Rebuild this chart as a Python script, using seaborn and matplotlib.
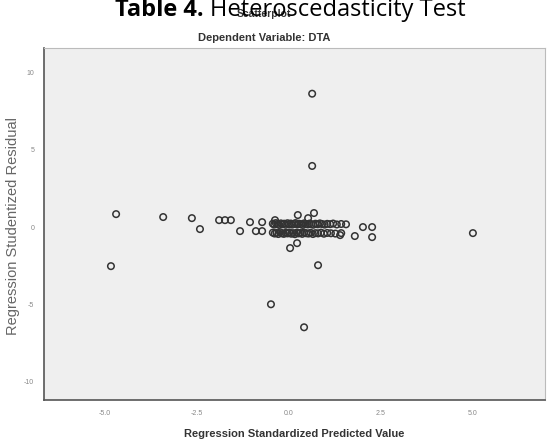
import matplotlib
matplotlib.use("Agg")
import matplotlib.pyplot as plt
import seaborn as sns
import pandas as pd

# Regression standardized predicted value (x) and studentized residual (y)
pred_outer = [-4.70, -4.84, -3.42, -2.64, -2.42, -1.90, -1.74, -1.58, -1.33, -1.06,
              -0.73, -0.90, -0.73, 0.24, 0.52, 0.68, 2.01, 2.26, 1.79, 2.26,
              0.03, 0.22, 1.39, 5.00, 0.63, 0.63, 0.79, -0.49, 0.41, -0.38]
resid_outer = [0.84, -2.53, 0.65, 0.58, -0.13, 0.45, 0.45, 0.45, -0.26, 0.32,
               0.32, -0.26, -0.26, 0.78, 0.58, 0.91, 0.00, 0.00, -0.58, -0.65,
               -1.36, -1.04, -0.52, -0.39, 8.64, 3.96, -2.47, -5.00, -6.49, 0.45]
pred_upper = [-0.44, -0.40, -0.36, -0.31, -0.27, -0.22, -0.18, -0.13, -0.09, -0.04,
              0.00, 0.05, 0.09, 0.14, 0.18, 0.23, 0.27, 0.32, 0.37, 0.41, 0.46, 0.51,
              0.56, 0.61, 0.66, 0.72, 0.78, 0.84, 0.90, 0.97, 1.04, 1.12, 1.20, 1.30,
              1.42, 1.55]
resid_upper = [0.22, 0.16, 0.26, 0.20, 0.14, 0.24, 0.18, 0.22, 0.15, 0.25, 0.19, 0.23,
               0.16, 0.21, 0.26, 0.17, 0.22, 0.19, 0.14, 0.24, 0.20, 0.17, 0.23, 0.19,
               0.15, 0.22, 0.18, 0.24, 0.20, 0.16, 0.21, 0.19, 0.23, 0.17, 0.20, 0.18]
pred_lower = [-0.44, -0.39, -0.34, -0.29, -0.24, -0.19, -0.14, -0.09, -0.04, 0.01,
              0.06, 0.11, 0.16, 0.21, 0.26, 0.31, 0.36, 0.41, 0.47, 0.53, 0.59, 0.65,
              0.72, 0.79, 0.87, 0.95, 1.04, 1.14, 1.26, 1.42]
resid_lower = [-0.36, -0.42, -0.38, -0.45, -0.34, -0.40, -0.44, -0.37, -0.41, -0.35,
               -0.43, -0.39, -0.46, -0.36, -0.41, -0.38, -0.44, -0.35, -0.40, -0.42,
               -0.37, -0.45, -0.39, -0.41, -0.36, -0.43, -0.38, -0.40, -0.42, -0.39]

x_ticks = [-5.0, -2.5, 0.0, 2.5, 5.0]
y_ticks = [10, 5, 0, -5, -10]

df = pd.DataFrame({
    "pred": pred_outer + pred_upper + pred_lower,
    "resid": resid_outer + resid_upper + resid_lower,
})

sns.set_theme(style="white")
plt.rcParams["font.family"] = ["Liberation Sans", "DejaVu Sans"]

fig = plt.figure(figsize=(5.47, 4.42), dpi=100)
ax = fig.add_axes([44 / 547, 42 / 442, 501 / 547, 352 / 442])
ax.set_facecolor("#efefef")

sns.scatterplot(data=df, x="pred", y="resid", ax=ax, s=22, marker="o",
                facecolor="none", edgecolor="#333333", linewidth=1.1, legend=False)

ax.set_xlim(-6.66, 6.96)
ax.set_ylim(-11.2, 11.6)
ax.set_xticks(x_ticks)
ax.set_xticklabels([f"{v:.1f}" for v in x_ticks])
ax.set_yticks(y_ticks)
ax.set_yticklabels([str(v) for v in y_ticks])
ax.tick_params(axis="both", labelsize=5, colors="#555555", length=4, width=1.2,
               direction="out", pad=3)
ax.tick_params(axis="both", labelcolor="#888888")

for side in ["left", "bottom"]:
    ax.spines[side].set_color("#555555")
    ax.spines[side].set_linewidth(1.2)
for side in ["top", "right"]:
    ax.spines[side].set_color("#bbbbbb")
    ax.spines[side].set_linewidth(0.8)

ax.set_xlabel("Regression Standardized Predicted Value", fontsize=8, fontweight="bold",
              color="#333333", labelpad=9)
ax.set_ylabel("")
fig.text(13 / 547, 1 - 226 / 442, "Regression Studentized Residual", rotation=90,
         ha="center", va="center", fontsize=10.5, color="#666666")

fig.text(264 / 547, 1 - 38 / 442, "Dependent Variable: DTA", ha="center", va="center",
         fontsize=8, fontweight="bold", color="#333333")
fig.text(264 / 547, 1 - 14 / 442, "Scatterplot", ha="center", va="center",
         fontsize=7.5, fontweight="bold", color="#333333")

# Title, partially cut at the top
fig.canvas.draw()
r = fig.canvas.get_renderer()
t1 = fig.text(0, 1 - 16 / 442, "Table 4. ", fontsize=17, fontweight="bold",
              family="Open Sans", va="baseline", color="black")
t2 = fig.text(0, 1 - 16 / 442, "Heteroscedasticity Test", fontsize=17,
              family="Open Sans", va="baseline", color="black")
w1 = t1.get_window_extent(r).width
w2 = t2.get_window_extent(r).width
start = 290 - (w1 + w2) / 2
t1.set_x(start / 547)
t2.set_x((start + w1) / 547)

fig.savefig("out.png", dpi=100)
